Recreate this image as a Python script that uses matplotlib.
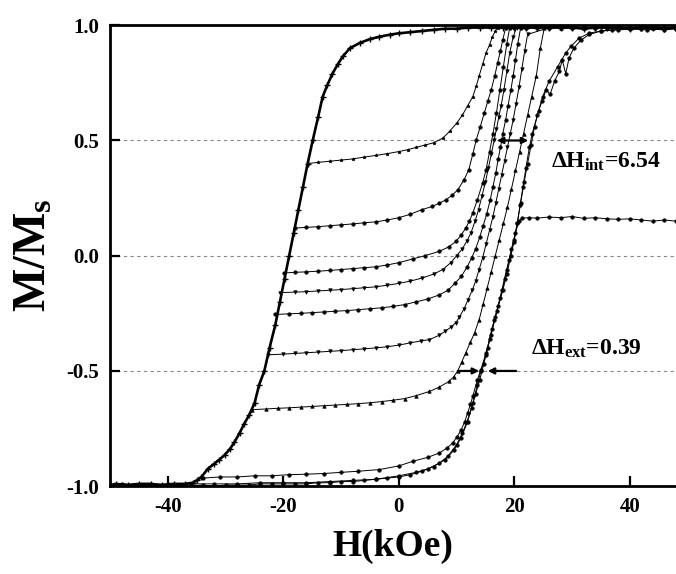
import numpy as np
import matplotlib
matplotlib.use("Agg")
import matplotlib.pyplot as plt

# ---- data (H in kOe, M/Ms) ----
# main descending branch (from +H to -H)
h_desc = [48, 46, 44, 42, 40, 38, 36, 34, 32, 30, 28, 26, 24, 22, 20, 18, 16, 14, 12, 10,
          8, 6, 4, 2, 0, -1.6, -3.4, -5, -6.8, -8.5, -9.7, -10.6, -11.5, -12.4, -13.2, -14.0,
          -14.9, -15.8, -16.6, -17.4, -18.2, -19.0, -19.8, -20.6, -21.4, -22.4, -23.3, -24.2,
          -25.0, -25.9, -26.8, -27.6, -28.5, -29.3, -30.2, -31.1, -32.1, -33.1, -34.2, -35.0,
          -35.7, -37, -39, -41, -43, -45, -47, -49, -50]
m_desc = [0.99, 0.985, 0.99, 0.99, 0.985, 0.99, 0.99, 0.99, 0.985, 0.99, 0.99, 0.99, 0.99, 0.99,
          0.99, 0.99, 0.99, 0.99, 0.99, 0.985, 0.985, 0.98, 0.975, 0.97, 0.965, 0.959, 0.95,
          0.94, 0.923, 0.9, 0.865, 0.83, 0.79, 0.74, 0.69, 0.60, 0.503, 0.40, 0.30, 0.20, 0.10,
          0.0, -0.1, -0.2, -0.3, -0.4, -0.5, -0.56, -0.64, -0.69, -0.73, -0.77, -0.81, -0.84,
          -0.865, -0.885, -0.905, -0.925, -0.96, -0.975, -0.985, -0.99, -0.99, -0.995, -0.99,
          -0.99, -0.995, -0.99, -0.995]

# main ascending branch
h_asc = [-50, -48, -46, -44, -42, -40, -38, -36, -34, -32, -30, -28, -26, -24, -22, -20, -18,
         -16, -14, -12, -10, -8, -6, -4, -2, 0, 2, 4, 6, 8, 9.5, 10.8, 11.9, 12.8, 13.6, 14.2,
         15.1, 15.7, 16.5, 17.2, 18.0, 18.7, 19.4, 20.0, 20.5, 21.0, 21.5, 22.0, 22.6, 23.1,
         24.0, 24.9, 26.0, 27.5, 28.9, 29.8, 31.2, 33, 35, 37, 40, 43, 46, 48]
m_asc = [-1.0, -0.995, -1.0, -0.995, -1.0, -0.995, -1.0, -1.0, -0.995, -1.0,
         -0.995, -0.995, -0.995, -0.99, -0.99, -0.99, -0.99, -0.99, -0.985, -0.985,
         -0.98, -0.98, -0.975, -0.97, -0.965, -0.96, -0.95, -0.935, -0.915, -0.885,
         -0.845, -0.79, -0.72, -0.64, -0.56, -0.50, -0.43, -0.36, -0.28, -0.22,
         -0.15, -0.08, 0.0, 0.07, 0.14, 0.22, 0.30, 0.38, 0.47, 0.53,
         0.61, 0.69, 0.756, 0.82, 0.88, 0.908, 0.944, 0.966, 0.975, 0.98,
         0.985, 0.98, 0.985, 0.985]

# ascending curve that stops at M/Ms ~ 0.16
h_p = [-48, -44, -40, -36, -32, -28, -24, -20, -16, -12, -8, -4, 0, 3, 5, 7, 8.5, 10, 11, 11.8,
       12.6, 13.3, 14.0, 14.7, 15.4, 16.2, 17.0, 17.9, 18.7, 19.5, 20.2, 20.8, 21.4, 22.5, 24,
       26, 28, 30, 32, 34, 36, 38, 40, 42, 44, 46, 48]
m_p = [-0.99, -0.995, -0.99, -0.99, -0.99, -0.99, -0.985, -0.985, -0.985, -0.98, -0.975, -0.97,
       -0.955, -0.94, -0.925, -0.90, -0.87, -0.82, -0.77, -0.72,
       -0.66, -0.60, -0.54, -0.47, -0.40, -0.32, -0.24, -0.15, -0.06, 0.03,
       0.10, 0.15, 0.163, 0.165, 0.163, 0.168, 0.165, 0.17, 0.162, 0.165,
       0.16, 0.158, 0.16, 0.155, 0.15, 0.155, 0.15]

# reversal curves
h_a = [-15.8, -14, -12, -10, -8, -6, -4, -2, 0, 1.5, 3, 4.5, 6, 7.6, 8.8, 10, 11, 11.9, 12.8, 13.4,
       13.9, 14.5, 15.1, 15.7, 16.2, 16.7, 17.1, 20, 24, 28, 32, 36, 40, 44, 48]
m_a = [0.40, 0.405, 0.41, 0.415, 0.42, 0.428, 0.435, 0.443, 0.452, 0.46,
       0.47, 0.48, 0.49, 0.51, 0.54, 0.575, 0.61, 0.65, 0.69, 0.735,
       0.78, 0.83, 0.88, 0.915, 0.95, 0.975, 0.99, 0.99, 0.99, 0.995,
       0.99, 0.99, 0.99, 0.99, 0.99]

h_b = [-18, -16, -14, -12, -10, -8, -6, -4, -2, 0, 2, 4, 5.8, 7, 8.2, 9.2, 10.2, 11.3, 12.1, 12.8,
       13.4, 14.1, 14.8, 15.4, 16.0, 16.6, 17.1, 17.6, 18.0, 18.5, 22, 26, 30, 34, 38, 42, 46, 48]
m_b = [0.12, 0.123, 0.126, 0.13, 0.134, 0.138, 0.143, 0.147, 0.155, 0.165,
       0.18, 0.2, 0.214, 0.228, 0.243, 0.262, 0.286, 0.33, 0.373, 0.44,
       0.503, 0.56, 0.62, 0.67, 0.72, 0.78, 0.836, 0.89, 0.937, 0.99,
       0.99, 0.99, 0.99, 0.99, 0.99, 0.99, 0.99, 0.99]

h_c = [-19.9, -18, -16, -14, -12, -10, -8, -6, -4, -2, 0, 2.4, 4.5, 7, 8.6, 9.9, 10.8, 11.6, 12.2,
       12.8, 13.6, 14.5, 15.1, 15.7, 16.3, 16.9, 17.5, 18.1, 18.7, 19.2, 22, 26, 30, 34, 38, 42,
       46, 48]
m_c = [-0.075, -0.072, -0.07, -0.067, -0.064, -0.06, -0.056, -0.052, -0.048, -0.04,
       -0.03, -0.014, 0.0, 0.019, 0.038, 0.062, 0.09, 0.12, 0.15, 0.185,
       0.243, 0.315, 0.373, 0.45, 0.53, 0.62, 0.72, 0.82, 0.92, 0.99,
       0.99, 0.99, 0.99, 0.99, 0.99, 0.99, 0.99, 0.99]

h_d = [-20.6, -18, -16, -14, -12, -10, -8, -6, -4, -2, 0, 2, 4, 6, 7.6, 9, 10, 11, 11.8, 12.5,
       13.2, 13.8, 14.4, 15.0, 15.5, 16.0, 16.5, 16.9, 17.3, 17.7, 18.2, 18.7, 19.2, 19.8, 20.4,
       24, 28, 32, 36, 40, 44, 48]
m_d = [-0.16, -0.158, -0.156, -0.153, -0.15, -0.147, -0.143, -0.139, -0.135, -0.128,
       -0.12, -0.11, -0.097, -0.08, -0.06, -0.03, 0.0, 0.03, 0.065, 0.1,
       0.15, 0.2, 0.26, 0.32, 0.38, 0.44, 0.5, 0.55, 0.6, 0.65,
       0.72, 0.8, 0.88, 0.95, 0.99, 0.99, 0.99, 0.99, 0.99, 0.99,
       0.99, 0.99]

h_e = [-21.4, -19, -17, -15, -13, -11, -9, -7, -5, -3, -1, 1, 3, 5, 7, 8.5, 9.7, 10.8, 11.8, 12.6,
       13.3, 14.0, 14.6, 15.2, 15.8, 16.3, 16.8, 17.2, 17.6, 18.0, 18.5, 18.9, 19.4, 19.8, 20.2,
       20.6, 21.1, 24, 28, 32, 36, 40, 44, 48]
m_e = [-0.255, -0.252, -0.25, -0.247, -0.244, -0.241, -0.238, -0.234, -0.23, -0.226,
       -0.22, -0.212, -0.2, -0.188, -0.17, -0.15, -0.12, -0.09, -0.05, -0.01,
       0.03, 0.08, 0.13, 0.18, 0.24, 0.30, 0.36, 0.42, 0.47, 0.53,
       0.59, 0.65, 0.72, 0.78, 0.85, 0.92, 0.99, 0.99, 0.99, 0.99,
       0.99, 0.99, 0.99, 0.99]

h_f = [-22.7, -20, -18, -16, -14, -12, -10, -8, -6, -4, -2, 0, 2, 3.8, 5.3, 7, 8, 9, 9.9, 10.5,
       11.3, 12, 12.7, 13.3, 13.9, 14.5, 15.1, 15.7, 16.3, 16.8, 17.3, 17.8, 18.3, 18.8, 19.3,
       19.8, 20.3, 20.8, 21.3, 21.8, 22.3, 26, 30, 34, 38, 42, 46, 48]
m_f = [-0.43, -0.427, -0.424, -0.421, -0.418, -0.415, -0.412, -0.408, -0.404, -0.40,
       -0.395, -0.388, -0.378, -0.37, -0.364, -0.345, -0.328, -0.31, -0.29, -0.265,
       -0.23, -0.19, -0.15, -0.11, -0.06, -0.01, 0.05, 0.11, 0.17, 0.23,
       0.29, 0.35, 0.41, 0.47, 0.53, 0.59, 0.66, 0.73, 0.81, 0.89,
       0.96, 0.99, 0.99, 0.99, 0.99, 0.99, 0.99, 0.99]

h_g = [-25.4, -23, -21, -19, -17, -15, -13, -11, -9, -7, -5, -3, -1, 1, 3, 5.3, 7, 8.7, 9.5, 10.2,
       10.9, 11.6, 12.4, 13.1, 13.9, 14.6, 15.3, 16, 16.7, 17.4, 18.1, 18.8, 19.5, 20.2, 20.9,
       21.6, 22.3, 23.0, 23.8, 24.5, 25.2, 28, 32, 36, 40, 44, 48]
m_g = [-0.668, -0.665, -0.662, -0.66, -0.657, -0.654, -0.651, -0.648, -0.645, -0.642,
       -0.638, -0.633, -0.627, -0.62, -0.607, -0.589, -0.57, -0.545, -0.525, -0.50,
       -0.46, -0.42, -0.375, -0.335, -0.278, -0.21, -0.14, -0.07, 0.0, 0.07,
       0.14, 0.21, 0.29, 0.37, 0.45, 0.53, 0.61, 0.69, 0.78, 0.90,
       0.99, 0.99, 0.99, 0.99, 0.99, 0.99, 0.99]

h_h = [-33.9, -31, -28, -25, -22, -19, -16, -13, -10, -7, -3.4, 0, 2.4, 5, 7, 8.3, 9.3, 10.1, 10.8,
       11.4, 11.9, 12.4, 12.8, 13.6, 14.2, 15.1, 15.9, 16.7, 17.5, 18.3, 19.1, 19.9, 20.5, 21.1,
       21.7, 22.3, 22.9, 23.5, 24.2, 24.8, 25.5, 26.2, 27.0, 27.8, 28.3, 28.9, 29.5, 30.3, 31.5,
       33, 35, 38, 42, 46, 48]
m_h = [-0.965, -0.96, -0.96, -0.955, -0.955, -0.95, -0.948, -0.945, -0.94, -0.935,
       -0.928, -0.912, -0.892, -0.875, -0.856, -0.835, -0.813, -0.785, -0.755, -0.72,
       -0.683, -0.645, -0.61, -0.538, -0.495, -0.422, -0.345, -0.265, -0.185, -0.10,
       -0.02, 0.06, 0.14, 0.23, 0.32, 0.40, 0.48, 0.56, 0.63, 0.67,
       0.72, 0.70, 0.76, 0.80, 0.85, 0.79, 0.86, 0.9, 0.935, 0.96,
       0.975, 0.98, 0.985, 0.98, 0.985]

x_ticks = [-40, -20, 0, 20, 40]
y_ticks = [-1.0, -0.5, 0.0, 0.5, 1.0]
ref_lines = [0.5, 0.0, -0.5]

# field widths marked on the plot
dH_int = (16.5, 22.9, 0.5)          # from, to, level
dH_ext_left = (10.2, 13.9, -0.5)
dH_ext_right = (20.3, 15.4, -0.5)

plt.rcParams['font.family'] = 'Liberation Serif'
plt.rcParams['font.weight'] = 'bold'
plt.rcParams['mathtext.fontset'] = 'custom'
plt.rcParams['mathtext.rm'] = 'Liberation Serif:bold'
plt.rcParams['mathtext.it'] = 'Liberation Serif:bold'
plt.rcParams['mathtext.bf'] = 'Liberation Serif:bold'

fig = plt.figure(figsize=(6.76, 5.74), dpi=100)
ax = fig.add_axes([0.163, 0.153, 0.837, 0.803])

for y in ref_lines:
    ax.axhline(y, color='#888888', lw=0.8, ls=(0, (3, 3)), zorder=1)

ms = 2.5
curves = [
    (h_a, m_a, '*'), (h_b, m_b, 'o'), (h_c, m_c, 'o'), (h_d, m_d, 'v'),
    (h_e, m_e, 'o'), (h_f, m_f, 'v'), (h_g, m_g, '^'), (h_h, m_h, 'o'),
    (h_p, m_p, 'o'), (h_asc, m_asc, 'o'),
]
for h, m, mk in curves:
    ax.plot(h, m, color='black', lw=0.7, marker=mk, ms=ms, mew=0.5, zorder=3)

ax.plot(h_desc, m_desc, color='black', lw=1.9, marker='+', ms=4, mew=1, zorder=3)

# arrows
kw = dict(arrowstyle='<|-|>', color='black', lw=1.6, mutation_scale=9)
ax.annotate('', xy=(dH_int[1], dH_int[2]), xytext=(dH_int[0], dH_int[2]),
            arrowprops=kw, zorder=5)
kw1 = dict(arrowstyle='-|>', color='black', lw=1.6, mutation_scale=9, shrinkA=0, shrinkB=0)
ax.annotate('', xy=(dH_ext_left[1], dH_ext_left[2]), xytext=(dH_ext_left[0], dH_ext_left[2]),
            arrowprops=kw1, zorder=5)
ax.annotate('', xy=(dH_ext_right[1], dH_ext_right[2]), xytext=(dH_ext_right[0], dH_ext_right[2]),
            arrowprops=kw1, zorder=5)

ax.text(26.4, 0.38, r'$\Delta H_{int}$=6.54', fontsize=17, fontweight='bold',
        ha='left', va='baseline')
ax.text(22.9, -0.43, r'$\Delta H_{ext}$=0.39', fontsize=17, fontweight='bold',
        ha='left', va='baseline')

ax.set_xlim(-50, 48)
ax.set_ylim(-1.0, 1.0)
ax.set_xticks(x_ticks)
ax.set_yticks(y_ticks)
ax.set_xticklabels([str(t) for t in x_ticks])
ax.set_yticklabels(['%.1f' % t for t in y_ticks])
ax.tick_params(direction='in', length=7, width=1.6, labelsize=15, pad=8)
for lab in ax.get_xticklabels() + ax.get_yticklabels():
    lab.set_fontweight('bold')

for s in ['left', 'bottom', 'top']:
    ax.spines[s].set_linewidth(2)
ax.spines['right'].set_visible(False)

ax.set_xlabel('H(kOe)', fontsize=27, fontweight='bold', labelpad=8)
ax.set_ylabel(r'$M/M_s$', fontsize=33, fontweight='bold', labelpad=8)

fig.savefig('out.png', dpi=100)
